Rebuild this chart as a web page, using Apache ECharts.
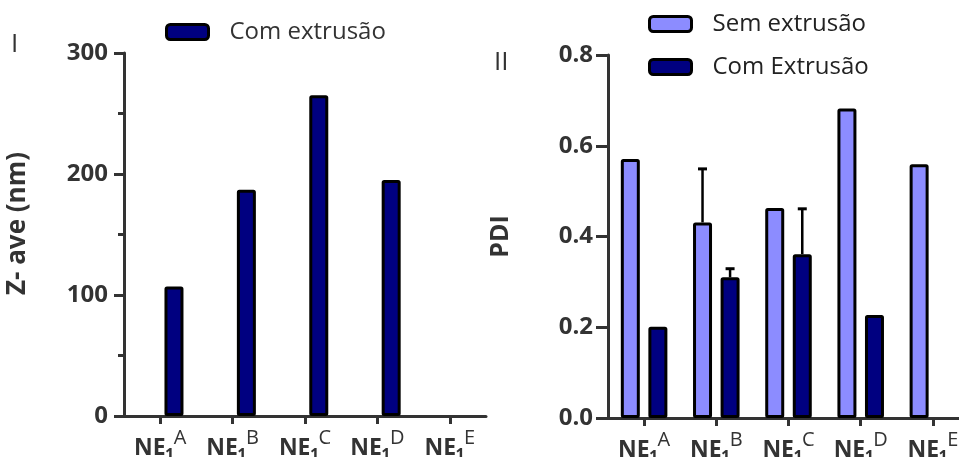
<!DOCTYPE html>
<html><head><meta charset="utf-8">
<script src="https://cdn.jsdelivr.net/npm/echarts@6/dist/echarts.min.js"></script>
<style>html,body{margin:0;padding:0;background:#fff}#c{width:959px;height:457px}</style>
</head><body><div id="c"></div>
<script>
// ---- data ----
const categories = ['A', 'B', 'C', 'D', 'E'];
const zaveSem = [null, null, null, null, null];
const zaveCom = [107, 187, 265, 195, null];
const pdiSem = [0.571, 0.431, 0.463, 0.682, 0.559];
const pdiCom = [0.201, 0.310, 0.361, 0.227, null];
const pdiSemErr = [0, 0.118, 0, 0, 0];
const pdiComErr = [0, 0.019, 0.100, 0, 0];
const zTickLabels = ['0', '100', '200', '300'];
const pdiTickLabels = ['0.0', '0.2', '0.4', '0.6', '0.8'];

// ---- style ----
const FONT = 'Open Sans';
const AX = '#333333';
const NAVY = '#000080';
const LIGHT = '#8c8cff';
const BAR_W = 19;
const BAR_GAP = '45%';
const OFF = (BAR_W + BAR_W * 0.45) / 2;

const chart = echarts.init(document.getElementById('c'));

function errRender(offset) {
  return function (params, api) {
    const i = api.value(0), v = api.value(1), e = api.value(2);
    const p0 = api.coord([i, v]);
    const p1 = api.coord([i, v + e]);
    const x = p0[0] + offset;
    return {
      type: 'group', children: [
        {type: 'line', shape: {x1: x, y1: p0[1], x2: x, y2: p1[1]}, style: {stroke: '#000', lineWidth: 2.5}},
        {type: 'line', shape: {x1: x - 4.5, y1: p1[1], x2: x + 4.5, y2: p1[1]}, style: {stroke: '#000', lineWidth: 3}}
      ]
    };
  };
}

const xRich = {
  b: {fontFamily: FONT, fontSize: 23, fontWeight: 'bold', color: AX, verticalAlign: 'bottom', lineHeight: 28},
  s: {fontFamily: FONT, fontSize: 16, fontWeight: 'bold', color: AX, verticalAlign: 'bottom', lineHeight: 22, width: 8, align: 'left', padding: [0, 0, -3, 0]},
  p: {fontFamily: FONT, fontSize: 20, color: AX, verticalAlign: 'bottom', lineHeight: 24, padding: [0, 0, 12, 0]}
};

function xAxisDef(gi) {
  return {
    type: 'category', gridIndex: gi, data: categories,
    axisLine: {show: true, lineStyle: {color: AX, width: 3}},
    axisTick: {show: true, alignWithLabel: true, length: 8, lineStyle: {color: AX, width: 3}},
    axisLabel: {margin: 16, interval: 0, formatter: c => '{b|NE}{s|1}{p|' + c + '}', rich: xRich},
    splitLine: {show: false}
  };
}

const barBorder = {borderColor: '#000', borderWidth: 3, borderRadius: 1};

chart.setOption({
  animation: false,
  backgroundColor: '#fff',
  graphic: [
    {type: 'text', left: 11, top: 32, style: {text: 'I', font: 'normal 26px "' + FONT + '"', fill: AX}},
    {type: 'text', left: 494, top: 50, style: {text: 'II', font: 'normal 26px "' + FONT + '"', fill: AX}}
  ],
  legend: [
    {
      data: ['Com extrusão'], left: 160, top: 15, icon: 'roundRect', itemWidth: 42, itemHeight: 15,
      itemStyle: {borderColor: '#000', borderWidth: 3},
      textStyle: {fontFamily: FONT, fontSize: 24, color: AX, padding: [0, 0, 0, 16]}
    },
    {
      data: ['Sem extrusão', 'Com Extrusão'], orient: 'vertical', left: 643, top: 7, itemGap: 19,
      icon: 'roundRect', itemWidth: 42, itemHeight: 15,
      itemStyle: {borderColor: '#000', borderWidth: 3},
      textStyle: {fontFamily: FONT, fontSize: 24, color: '#222', padding: [0, 0, 0, 16]}
    }
  ],
  grid: [
    {left: 124, top: 53, width: 362, height: 363, outerBoundsMode: 'none', containLabel: false},
    {left: 608, top: 55, width: 361, height: 363, outerBoundsMode: 'none', containLabel: false}
  ],
  xAxis: [xAxisDef(0), xAxisDef(1)],
  yAxis: [
    {
      type: 'value', gridIndex: 0, min: 0, max: 300, interval: 100,
      name: 'Z- ave (nm)', nameLocation: 'middle', nameGap: 93, nameRotate: 90,
      nameTextStyle: {fontFamily: FONT, fontSize: 26, fontWeight: 'bold', color: AX, padding: [0, 0, 0, 22]},
      axisLine: {show: true, lineStyle: {color: AX, width: 3}},
      axisTick: {show: true, length: 10, lineStyle: {color: AX, width: 3}},
      minorTick: {show: true, splitNumber: 2, length: 6, lineStyle: {color: AX, width: 3}},
      splitLine: {show: false}, minorSplitLine: {show: false},
      axisLabel: {margin: 16, fontFamily: FONT, fontSize: 24, fontWeight: 'bold', color: AX,
        formatter: v => zTickLabels[Math.round(v / 100)]}
    },
    {
      type: 'value', gridIndex: 1, min: 0, max: 0.8, interval: 0.2,
      name: 'PDI', nameLocation: 'middle', nameGap: 95, nameRotate: 90,
      nameTextStyle: {fontFamily: FONT, fontSize: 25, fontWeight: 'bold', color: AX},
      axisLine: {show: true, lineStyle: {color: AX, width: 3}},
      axisTick: {show: true, length: 12, lineStyle: {color: AX, width: 3}},
      splitLine: {show: false},
      axisLabel: {margin: 15, fontFamily: FONT, fontSize: 24, fontWeight: 'bold', color: AX,
        formatter: v => pdiTickLabels[Math.round(v / 0.2)]}
    }
  ],
  series: [
    {name: 'Sem (I)', type: 'bar', xAxisIndex: 0, yAxisIndex: 0, data: zaveSem, barWidth: BAR_W, barGap: BAR_GAP,
      itemStyle: Object.assign({color: LIGHT}, barBorder)},
    {name: 'Com extrusão', type: 'bar', xAxisIndex: 0, yAxisIndex: 0, data: zaveCom, barWidth: BAR_W, barGap: BAR_GAP,
      itemStyle: Object.assign({color: NAVY}, barBorder)},
    {name: 'Sem extrusão', type: 'bar', xAxisIndex: 1, yAxisIndex: 1, data: pdiSem, barWidth: BAR_W, barGap: BAR_GAP,
      itemStyle: Object.assign({color: LIGHT}, barBorder)},
    {name: 'Com Extrusão', type: 'bar', xAxisIndex: 1, yAxisIndex: 1, data: pdiCom, barWidth: BAR_W, barGap: BAR_GAP,
      itemStyle: Object.assign({color: NAVY}, barBorder)},
    {type: 'custom', xAxisIndex: 1, yAxisIndex: 1, renderItem: errRender(-OFF), z: 5,
      data: categories.map((c, i) => [i, pdiSem[i], pdiSemErr[i]]).filter(d => d[2] > 0)},
    {type: 'custom', xAxisIndex: 1, yAxisIndex: 1, renderItem: errRender(OFF), z: 5,
      data: categories.map((c, i) => [i, pdiCom[i], pdiComErr[i]]).filter(d => d[2] > 0)}
  ]
});
</script>
</body></html>
